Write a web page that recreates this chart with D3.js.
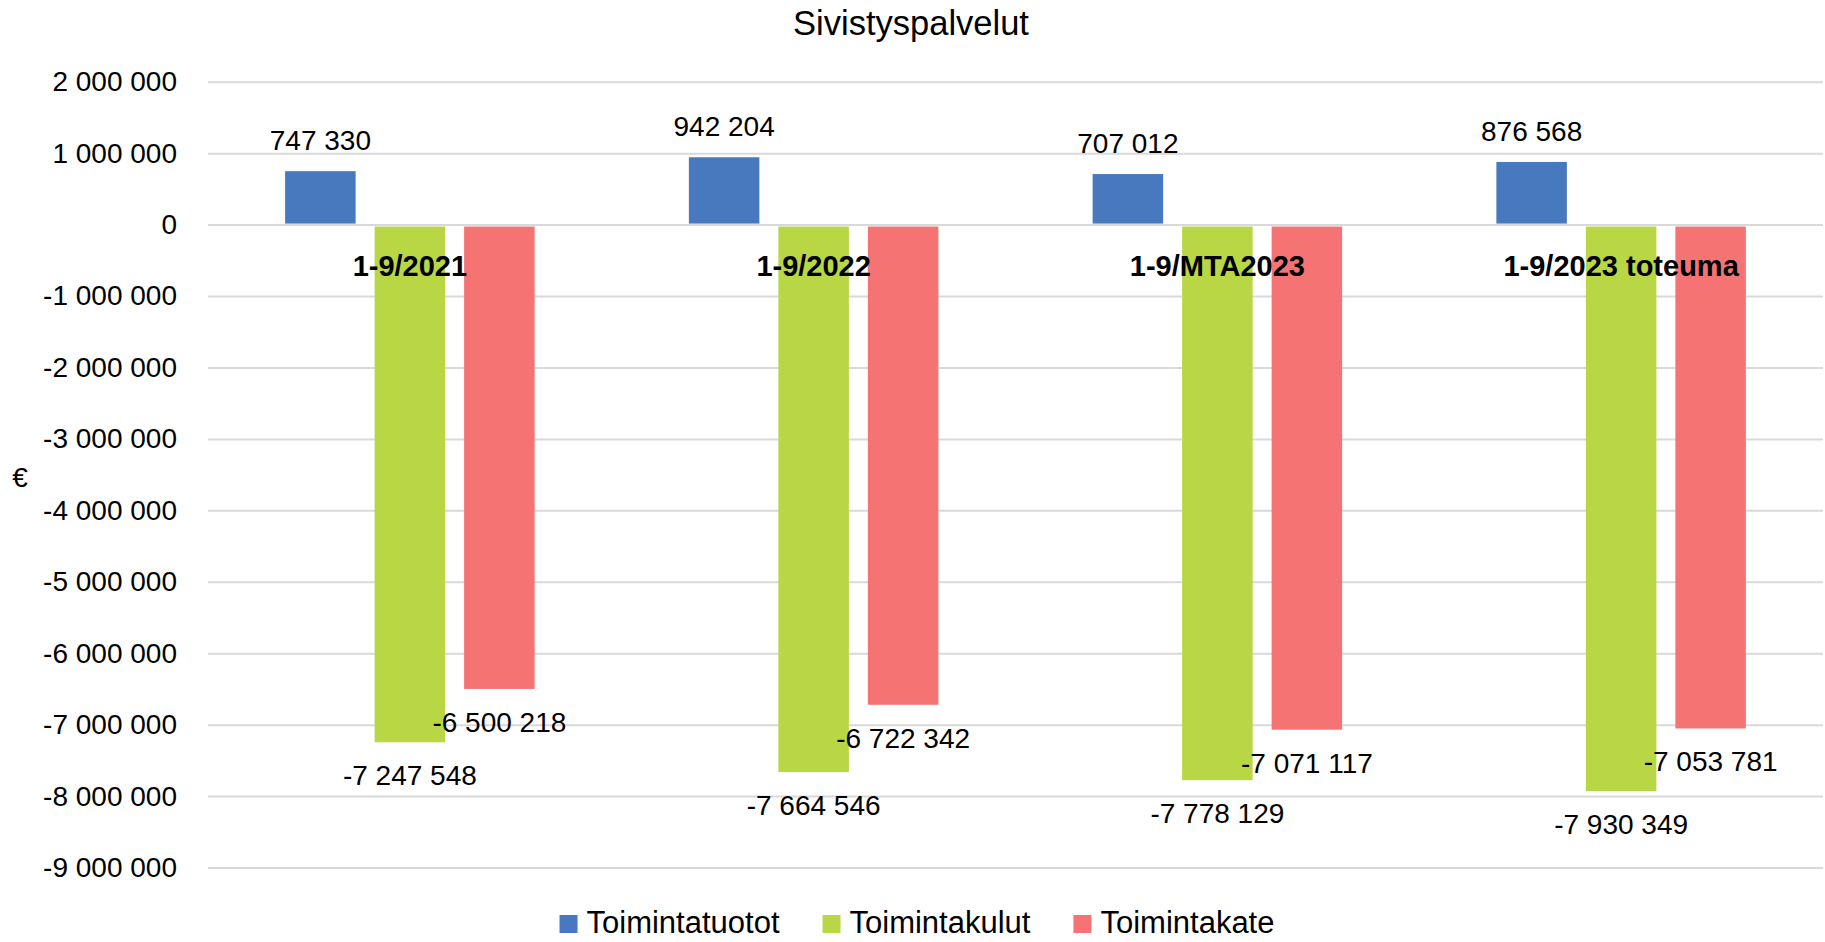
<!DOCTYPE html>
<html>
<head>
<meta charset="utf-8">
<script src="https://cdn.jsdelivr.net/npm/d3@7"></script>
<style>
  body { margin: 0; background: #fff; }
  svg text { font-family: "Liberation Sans", Arial, sans-serif; fill: #000; }
  .axis .domain { display: none; }
  .axis line { stroke: #d9d9d9; stroke-width: 2px; }
</style>
</head>
<body>
<div id="chart"></div>
<script>
// data
var categories = ["1-9/2021", "1-9/2022", "1-9/MTA2023", "1-9/2023 toteuma"];
var seriesNames = ["Toimintatuotot", "Toimintakulut", "Toimintakate"];
var toimintatuotot = [747330, 942204, 707012, 876568];
var toimintakulut = [-7247548, -7664546, -7778129, -7930349];
var toimintakate = [-6500218, -6722342, -7071117, -7053781];
var yTicks = [-9000000, -8000000, -7000000, -6000000, -5000000, -4000000, -3000000, -2000000, -1000000, 0, 1000000, 2000000];
var colors = ["#4878be", "#b9d645", "#f57373"];

var width = 1825, height = 942;
var margin = {top: 81.7, left: 208, right: 2, bottom: 74.5};

var fi = d3.formatLocale({decimal: ",", thousands: " ", grouping: [3], currency: ["", " €"], minus: "-"});
var fmt = fi.format(",.0f");

var svg = d3.select("#chart")
    .append("svg")
    .attr("width", width)
    .attr("height", height)

var g = svg.append("g")

var x0 = d3.scaleBand().domain(categories).range([margin.left, width - margin.right]),
    x1 = d3.scaleBand().domain(seriesNames).range([0, x0.bandwidth()]).paddingInner(0.2123).paddingOuter(0.8617),
    y = d3.scaleLinear().domain([-9000000, 2000000]).range([height - margin.bottom, margin.top])

var rows = categories.map(function (c, i) {
    return {cat: c, vals: [toimintatuotot[i], toimintakulut[i], toimintakate[i]]};
});

// grid + y labels
g.append("g")
    .attr("class", "axis")
    .attr("transform", "translate(" + margin.left + ",0)")
    .call(d3.axisLeft(y).tickValues(yTicks).tickFormat(fmt)
        .tickSize(-(width - margin.left - margin.right)).tickPadding(31))
    .selectAll("text")
    .style("font-size", "28px")
    .style("font-family", "Liberation Sans, Arial, sans-serif")
    .attr("fill", "#000");

var groups = g.selectAll(".grp")
    .data(rows)
    .enter().append("g")
    .attr("class", "grp")
    .attr("transform", function (d) { return "translate(" + x0(d.cat) + ",0)"; });

groups.selectAll("rect")
    .data(function (d) { return d.vals.map(function (v, k) { return {key: seriesNames[k], v: v, k: k}; }); })
    .enter().append("rect")
    .attr("x", function (d) { return x1(d.key); })
    .attr("width", x1.bandwidth())
    .attr("y", function (d) { return d.v >= 0 ? y(d.v) : y(0) + 2; })
    .attr("height", function (d) { return d.v >= 0 ? y(0) - y(d.v) - 1 : y(d.v) - y(0) - 2; })
    .attr("fill", function (d) { return colors[d.k]; });

// value labels
groups.selectAll(".lbl")
    .data(function (d) { return d.vals.map(function (v, k) { return {key: seriesNames[k], v: v}; }); })
    .enter().append("text")
    .attr("class", "lbl")
    .attr("x", function (d) { return x1(d.key) + x1.bandwidth() / 2; })
    .attr("y", function (d) { return d.v >= 0 ? y(d.v) - 21 : y(d.v) + 43; })
    .attr("text-anchor", "middle")
    .style("font-size", "28px")
    .text(function (d) { return fmt(d.v); });

// category labels under zero line
groups.append("text")
    .attr("x", x0.bandwidth() / 2)
    .attr("y", y(0) + 51)
    .attr("text-anchor", "middle")
    .style("font-size", "29px")
    .style("font-weight", "bold")
    .text(function (d) { return d.cat; });

// title
svg.append("text")
    .attr("x", 911)
    .attr("y", 35)
    .attr("text-anchor", "middle")
    .style("font-size", "34.5px")
    .text("Sivistyspalvelut");

// y axis title
svg.append("text")
    .attr("x", 20)
    .attr("y", 487)
    .attr("text-anchor", "middle")
    .style("font-size", "28px")
    .text("€");

// legend
var legend = svg.append("g");
var lx = 0;
seriesNames.forEach(function (name, k) {
    var item = legend.append("g").attr("transform", "translate(" + lx + ",0)");
    item.append("rect").attr("x", 0).attr("y", 915).attr("width", 18).attr("height", 18).attr("fill", colors[k]);
    var t = item.append("text").attr("x", 27).attr("y", 933).style("font-size", "31px").text(name);
    lx += 27 + t.node().getComputedTextLength() + 43;
});
var lw = lx - 43;
legend.attr("transform", "translate(" + (917 - lw / 2) + ",0)");
</script>
</body>
</html>
